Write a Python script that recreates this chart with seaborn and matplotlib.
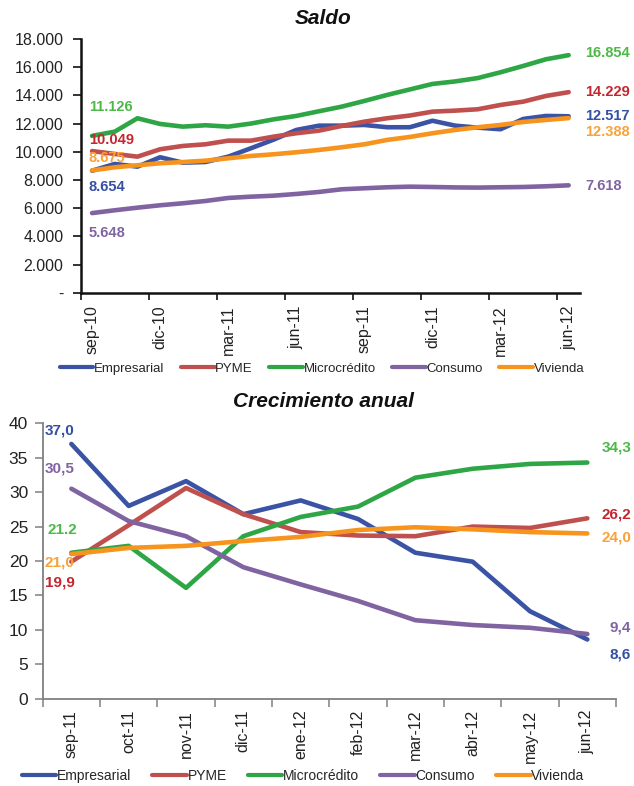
import numpy as np
import pandas as pd
import matplotlib
matplotlib.use("Agg")
import matplotlib.pyplot as plt
from matplotlib.ticker import FuncFormatter, FixedLocator
import seaborn as sns

# ---------------- data ----------------
series = ["Empresarial", "PYME", "Microcrédito", "Consumo", "Vivienda"]

months_saldo = ["sep-10", "oct-10", "nov-10", "dic-10", "ene-11", "feb-11", "mar-11",
                "abr-11", "may-11", "jun-11", "jul-11", "ago-11", "sep-11", "oct-11",
                "nov-11", "dic-11", "ene-12", "feb-12", "mar-12", "abr-12", "may-12", "jun-12"]
saldo_empresarial = [8654, 9134, 8943, 9609, 9226, 9274, 9652, 10248, 10860, 11547, 11852,
                     11852, 11902, 11739, 11739, 12200, 11852, 11710, 11597, 12328, 12541, 12517]
saldo_pyme = [10049, 9844, 9652, 10177, 10412, 10530, 10788, 10788, 11072, 11313, 11498,
              11831, 12136, 12377, 12570, 12846, 12917, 13016, 13322, 13556, 13960, 14229]
saldo_micro = [11126, 11427, 12377, 11973, 11782, 11880, 11782, 12000, 12300, 12541, 12874,
               13201, 13605, 14031, 14420, 14812, 14990, 15230, 15640, 16089, 16562, 16854]
saldo_consumo = [5648, 5848, 6033, 6203, 6345, 6508, 6721, 6813, 6884, 7005, 7147,
                 7338, 7409, 7480, 7523, 7500, 7470, 7457, 7480, 7500, 7550, 7618]
saldo_vivienda = [8675, 8900, 9042, 9184, 9270, 9368, 9538, 9702, 9820, 9964, 10128,
                  10318, 10530, 10838, 11050, 11313, 11547, 11739, 11902, 12115, 12257, 12388]

months_crec = ["sep-11", "oct-11", "nov-11", "dic-11", "ene-12", "feb-12",
               "mar-12", "abr-12", "may-12", "jun-12"]
crec_empresarial = [37.0, 28.0, 31.6, 26.8, 28.8, 26.1, 21.2, 19.9, 12.7, 8.6]
crec_pyme = [19.9, 25.2, 30.6, 26.8, 24.2, 23.7, 23.6, 25.0, 24.8, 26.2]
crec_micro = [21.2, 22.2, 16.1, 23.6, 26.4, 27.9, 32.1, 33.4, 34.1, 34.3]
crec_consumo = [30.5, 25.8, 23.6, 19.1, 16.6, 14.2, 11.4, 10.7, 10.3, 9.4]
crec_vivienda = [21.0, 21.9, 22.2, 22.9, 23.5, 24.5, 24.9, 24.6, 24.2, 24.0]

saldo_ticks = ["sep-10", "dic-10", "mar-11", "jun-11", "sep-11", "dic-11", "mar-12", "jun-12"]

# ---------------- style ----------------
line_colors = {"Empresarial": "#3A53A4", "PYME": "#C0504D", "Microcrédito": "#2EA645",
               "Consumo": "#8064A2", "Vivienda": "#F7941D"}
label_colors = {"Empresarial": "#3350A3", "PYME": "#C4262E", "Microcrédito": "#4DB848",
                "Consumo": "#8064A2", "Vivienda": "#F9A23A"}

sns.set_theme(style="white")
plt.rcParams["font.family"] = ["Liberation Sans", "DejaVu Sans"]

fig = plt.figure(figsize=(6.34, 7.86), dpi=100)
W, H = 634.0, 786.0

def px_axes(x0, y0, x1, y1):
    return fig.add_axes([x0 / W, 1 - y1 / H, (x1 - x0) / W, (y1 - y0) / H])

ax1 = px_axes(80.7, 39.0, 580.0, 292.7)
ax2 = px_axes(42.7, 423.3, 616.0, 698.7)

LW = 3.3

# ---------------- top chart: Saldo ----------------
saldo_vals = [saldo_empresarial, saldo_pyme, saldo_micro, saldo_consumo, saldo_vivienda]
df1 = pd.DataFrame({
    "idx": np.tile(np.arange(len(months_saldo)), len(series)),
    "valor": np.concatenate(saldo_vals),
    "serie": np.repeat(series, len(months_saldo)),
})
sns.lineplot(data=df1, x="idx", y="valor", hue="serie", hue_order=series,
             palette=line_colors, linewidth=LW, legend=False, ax=ax1,
             solid_capstyle="round", solid_joinstyle="round")

ax1.set_xlim(-0.5, len(months_saldo) - 0.5)
ax1.set_ylim(0, 18000)
ax1.set_yticks(np.arange(0, 18001, 2000))
ax1.yaxis.set_major_formatter(FuncFormatter(
    lambda v, p: "-" if v == 0 else f"{v:,.0f}".replace(",", ".")))
lab_idx = [months_saldo.index(m) for m in saldo_ticks]
ax1.xaxis.set_major_locator(FixedLocator(lab_idx))
ax1.set_xticklabels(saldo_ticks, rotation=90)
ax1.xaxis.set_minor_locator(FixedLocator([i - 0.5 for i in lab_idx]))
ax1.tick_params(axis="x", which="major", length=0, pad=9, labelsize=11.5, colors="#222222")
ax1.tick_params(axis="x", which="minor", length=5, width=1.2, color="#111111", direction="out",
                bottom=True)
ax1.tick_params(axis="y", length=6, width=1.2, color="#111111", direction="out", pad=6.5,
                labelsize=11.5, labelcolor="#222222", left=True)
for s in ["top", "right"]:
    ax1.spines[s].set_visible(False)
for s in ["left", "bottom"]:
    ax1.spines[s].set_color("#111111")
    ax1.spines[s].set_linewidth(1.8)
ax1.set_xlabel("")
ax1.set_ylabel("")

# data labels (first / last point)
first_off1 = {"Microcrédito": 20.8, "PYME": 7.9, "Vivienda": 9.0, "Empresarial": -11.7, "Consumo": -14.3}
last_off1 = {"Microcrédito": 1.4, "PYME": 0.0, "Empresarial": 0.0, "Vivienda": -10.3, "Consumo": -0.6}
for name, vals in zip(series, saldo_vals):
    ax1.annotate(f"{vals[0]:,.0f}".replace(",", "."), xy=(0, vals[0]),
                 xytext=(-2.2, first_off1[name]), textcoords="offset points",
                 ha="left", va="center", fontsize=10.5, fontweight="bold",
                 color=label_colors[name], annotation_clip=False)
    ax1.annotate(f"{vals[-1]:,.0f}".replace(",", "."), xy=(len(vals) - 1, vals[-1]),
                 xytext=(12.2, last_off1[name]), textcoords="offset points",
                 ha="left", va="center", fontsize=10.5, fontweight="bold",
                 color=label_colors[name], annotation_clip=False)

# ---------------- bottom chart: Crecimiento anual ----------------
crec_vals = [crec_empresarial, crec_pyme, crec_micro, crec_consumo, crec_vivienda]
df2 = pd.DataFrame({
    "idx": np.tile(np.arange(len(months_crec)), len(series)),
    "valor": np.concatenate(crec_vals),
    "serie": np.repeat(series, len(months_crec)),
})
sns.lineplot(data=df2, x="idx", y="valor", hue="serie", hue_order=series,
             palette=line_colors, linewidth=LW, legend=False, ax=ax2,
             solid_capstyle="round", solid_joinstyle="round")

ax2.set_xlim(-0.5, len(months_crec) - 0.5)
ax2.set_ylim(0, 40)
ax2.set_yticks(np.arange(0, 41, 5))
ax2.xaxis.set_major_locator(FixedLocator(list(range(len(months_crec)))))
ax2.set_xticklabels(months_crec, rotation=90)
ax2.xaxis.set_minor_locator(FixedLocator([i - 0.5 for i in range(len(months_crec) + 1)]))
ax2.tick_params(axis="x", which="major", length=0, pad=8, labelsize=11.5, colors="#222222")
ax2.tick_params(axis="x", which="minor", length=5.5, width=1.1, color="#808080",
                direction="out", bottom=True)
ax2.tick_params(axis="y", length=5.5, width=1.1, color="#808080", direction="out", pad=5,
                labelsize=12.5, labelcolor="#222222", left=True)
for s in ["top", "right"]:
    ax2.spines[s].set_visible(False)
for s in ["left", "bottom"]:
    ax2.spines[s].set_color("#808080")
    ax2.spines[s].set_linewidth(1.3)
ax2.set_xlabel("")
ax2.set_ylabel("")

first_lab2 = {"Empresarial": "37,0", "Consumo": "30,5", "Microcrédito": "21.2",
              "Vivienda": "21,0", "PYME": "19,9"}
last_lab2 = {"Microcrédito": "34,3", "PYME": "26,2", "Vivienda": "24,0",
             "Consumo": "9,4", "Empresarial": "8,6"}
first_off2 = {"Empresarial": (-19.0, 9.4), "Consumo": (-19.0, 14.5), "Microcrédito": (-17.3, 16.3),
              "Vivienda": (-19.0, -6.1), "PYME": (-19.0, -15.0)}
last_off2 = {"Microcrédito": (10.0, 10.5), "PYME": (10.0, 2.8), "Vivienda": (10.0, -3.0),
             "Consumo": (16.0, 4.6), "Empresarial": (16.0, -10.5)}
for name, vals in zip(series, crec_vals):
    ax2.annotate(first_lab2[name], xy=(0, vals[0]), xytext=first_off2[name],
                 textcoords="offset points", ha="left", va="center", fontsize=11,
                 fontweight="bold", color=label_colors[name], annotation_clip=False)
    ax2.annotate(last_lab2[name], xy=(len(vals) - 1, vals[-1]), xytext=last_off2[name],
                 textcoords="offset points", ha="left", va="center", fontsize=11,
                 fontweight="bold", color=label_colors[name], annotation_clip=False)

# ---------------- titles ----------------
fig.text(323.5 / W, 1 - 18.0 / H, "Saldo", ha="center", va="center",
         fontsize=15, fontweight="bold", fontstyle="italic", color="#111111")
fig.text(323.0 / W, 1 - 402.0 / H, "Crecimiento anual", ha="center", va="center",
         fontsize=15, fontweight="bold", fontstyle="italic", color="#111111")

# ---------------- legends ----------------
handles1 = ax1.get_lines()[:len(series)]
leg1 = fig.legend(handles1, series, loc="center", bbox_to_anchor=(322 / W, 1 - 369 / H),
                  ncol=5, frameon=False, fontsize=9.5, handlelength=2.55,
                  handletextpad=0.05, columnspacing=1.25, borderaxespad=0, borderpad=0)
for l in leg1.get_lines():
    l.set_linewidth(3.0)
handles2 = ax2.get_lines()[:len(series)]
leg2 = fig.legend(handles2, series, loc="center", bbox_to_anchor=(303 / W, 1 - 776 / H),
                  ncol=5, frameon=False, fontsize=10, handlelength=2.5,
                  handletextpad=0.05, columnspacing=1.5, borderaxespad=0, borderpad=0)
for l in leg2.get_lines():
    l.set_linewidth(3.0)

fig.savefig("out.png", dpi=100)
